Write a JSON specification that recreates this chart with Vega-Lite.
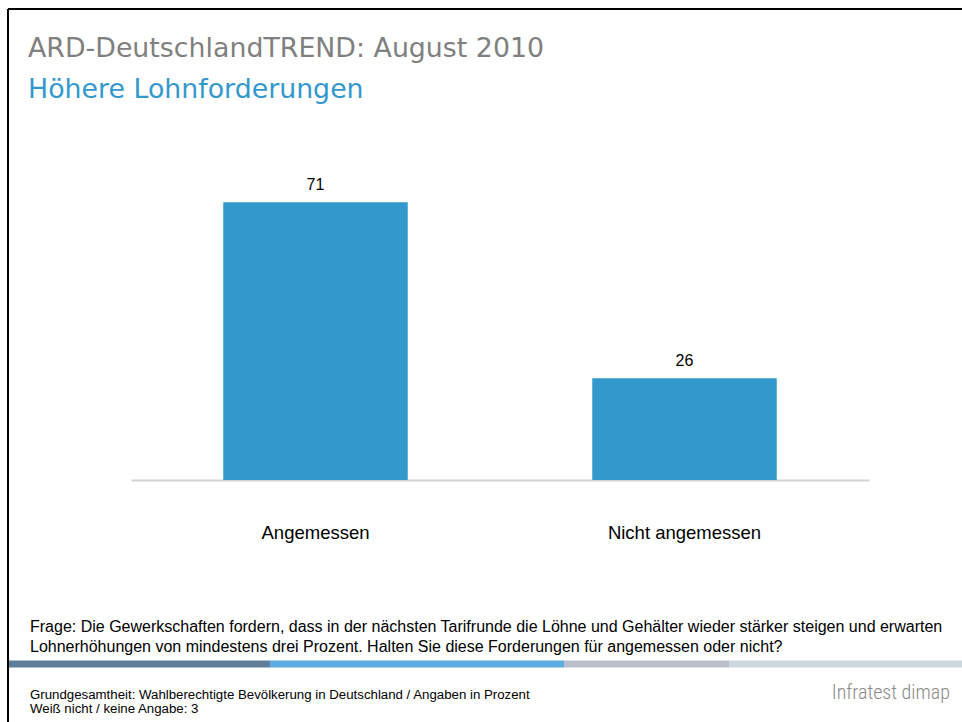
{
  "$schema": "https://vega.github.io/schema/vega-lite/v6.json",
  "width": 738,
  "height": 313,
  "autosize": {"type": "none"},
  "padding": {"left": 131, "top": 167, "right": 93, "bottom": 242},
  "background": "white",
  "config": {"view": {"stroke": null}, "font": "Liberation Sans"},
  "title": {
    "text": "ARD-DeutschlandTREND: August 2010",
    "subtitle": "Höhere Lohnforderungen",
    "anchor": "start",
    "frame": "group",
    "dx": -103,
    "offset": -96,
    "font": "DejaVu Sans",
    "fontSize": 26.8,
    "fontWeight": "normal",
    "color": "#808080",
    "subtitleFont": "DejaVu Sans",
    "subtitleFontSize": 26.8,
    "subtitleColor": "#3399cc",
    "subtitlePadding": 14
  },
  "data": {
    "values": [
      {"Antwort": "Angemessen", "Prozent": 71},
      {"Antwort": "Nicht angemessen", "Prozent": 26}
    ]
  },
  "layer": [
    {
      "mark": {"type": "bar", "color": "#3399cc"},
      "encoding": {
        "x": {
          "field": "Antwort",
          "type": "nominal",
          "sort": null,
          "scale": {"paddingInner": 0.5, "paddingOuter": 0.25},
          "axis": {
            "title": null,
            "labelAngle": 0,
            "labelFontSize": 18.5,
            "labelColor": "#000000",
            "labelPadding": 43,
            "ticks": false,
            "domainColor": "#d4d4d4",
            "domainWidth": 2,
            "grid": false
          }
        },
        "y": {
          "field": "Prozent",
          "type": "quantitative",
          "scale": {"domain": [0, 80], "nice": false},
          "axis": null
        }
      }
    },
    {
      "mark": {"type": "text", "fontSize": 16, "color": "#000000", "baseline": "alphabetic", "dy": -12},
      "encoding": {
        "x": {"field": "Antwort", "type": "nominal", "sort": null},
        "y": {"field": "Prozent", "type": "quantitative"},
        "text": {"field": "Prozent", "type": "quantitative"}
      }
    },
    {
      "data": {"values": [{"t": "Frage: Die Gewerkschaften fordern, dass in der nächsten Tarifrunde die Löhne und Gehälter wieder stärker steigen und erwarten\nLohnerhöhungen von mindestens drei Prozent. Halten Sie diese Forderungen für angemessen oder nicht?"}]},
      "mark": {"type": "text", "align": "left", "baseline": "alphabetic", "fontSize": 16, "lineBreak": "\n", "lineHeight": 20, "color": "#000000"},
      "encoding": {"x": {"value": -101}, "y": {"value": 465}, "text": {"field": "t"}}
    },
    {
      "data": {"values": [{"t": "Grundgesamtheit: Wahlberechtigte Bevölkerung in Deutschland / Angaben in Prozent\nWeiß nicht / keine Angabe: 3"}]},
      "mark": {"type": "text", "align": "left", "baseline": "alphabetic", "fontSize": 13.25, "lineBreak": "\n", "lineHeight": 13.5, "color": "#000000"},
      "encoding": {"x": {"value": -101}, "y": {"value": 532}, "text": {"field": "t"}}
    },
    {
      "data": {"values": [{"t": "Infratest dimap"}]},
      "mark": {"type": "text", "align": "right", "baseline": "alphabetic", "fontSize": 20, "fontWeight": 300, "font": "Roboto Condensed, DejaVu Sans Condensed, Liberation Sans Narrow, Roboto", "color": "#8a8a8a"},
      "encoding": {"x": {"value": 819}, "y": {"value": 532}, "text": {"field": "t"}}
    },
    {
      "data": {"values": [{}]},
      "mark": {"type": "rect", "color": "#5f7f99"},
      "encoding": {"x": {"value": -122}, "x2": {"value": 139}, "y": {"value": 493.5}, "y2": {"value": 500.5}}
    },
    {
      "data": {"values": [{}]},
      "mark": {"type": "rect", "color": "#5dade2"},
      "encoding": {"x": {"value": 139}, "x2": {"value": 433}, "y": {"value": 493.5}, "y2": {"value": 500.5}}
    },
    {
      "data": {"values": [{}]},
      "mark": {"type": "rect", "color": "#b9c0c9"},
      "encoding": {"x": {"value": 433}, "x2": {"value": 598}, "y": {"value": 493.5}, "y2": {"value": 500.5}}
    },
    {
      "data": {"values": [{}]},
      "mark": {"type": "rect", "color": "#cdd8df"},
      "encoding": {"x": {"value": 598}, "x2": {"value": 831}, "y": {"value": 493.5}, "y2": {"value": 500.5}}
    },
    {
      "data": {"values": [{}]},
      "mark": {"type": "rule", "color": "#000000", "strokeWidth": 2},
      "encoding": {"x": {"value": -123}, "x2": {"value": 831}, "y": {"value": -158}}
    },
    {
      "data": {"values": [{}]},
      "mark": {"type": "rule", "color": "#000000", "strokeWidth": 2},
      "encoding": {"x": {"value": -123}, "y": {"value": -158}, "y2": {"value": 555}}
    }
  ]
}
